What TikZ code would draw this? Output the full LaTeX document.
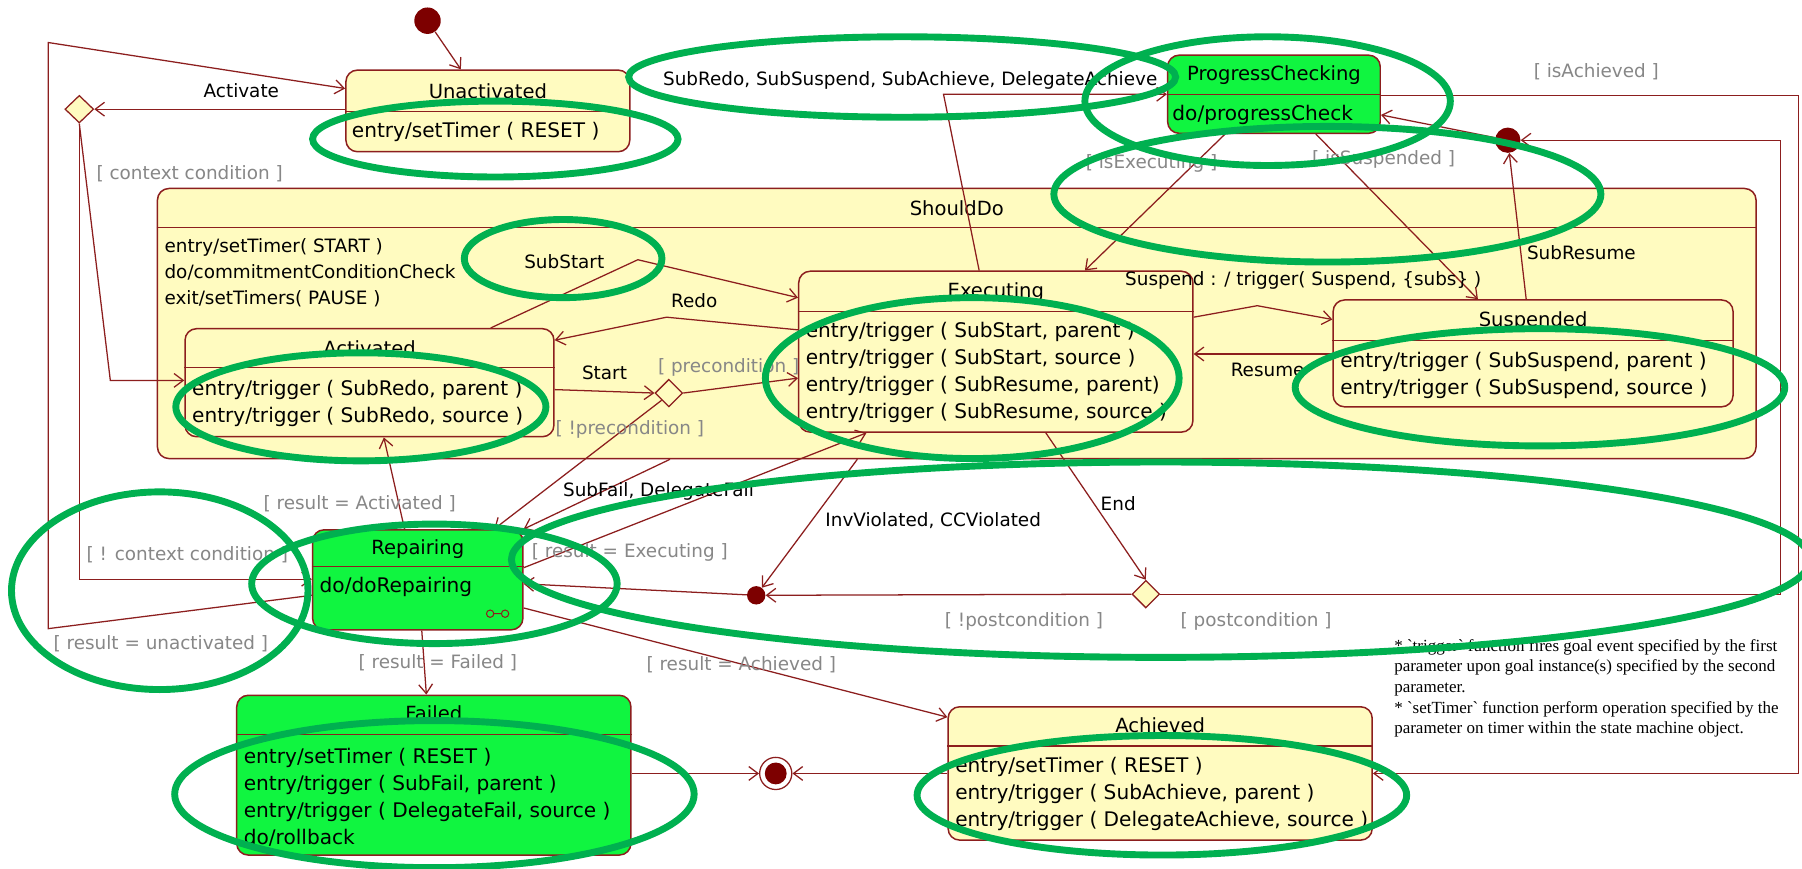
\documentclass[tikz,border=0pt]{standalone}
\usepackage{fontspec}
\setmainfont{DejaVu Sans}
\newfontfamily\notefont{Liberation Serif}
\usetikzlibrary{arrows.meta,shapes.geometric,calc}
\definecolor{lnc}{RGB}{140,30,30}
\definecolor{styl}{RGB}{255,251,192}
\definecolor{grn}{RGB}{16,245,64}
\definecolor{hlg}{RGB}{0,176,80}
\definecolor{dotc}{RGB}{125,0,0}
\definecolor{gtext}{RGB}{135,135,135}
\newcommand\dfont{\fontsize{16}{23.5}\selectfont}
\newcommand\cfont{\fontsize{17.5}{23.5}\selectfont}
\newcommand\tfont{\fontsize{17}{23.5}\selectfont}
\tikzset{
  st/.style={draw=lnc, line width=1.3pt, rounded corners=10pt, fill=styl, inner sep=0pt},
  stg/.style={st, fill=grn},
  lab/.style={font=\dfont, inner sep=1pt, text=black},
  ttl/.style={font=\tfont, inner sep=1pt, text=black},
  grd/.style={font=\dfont, inner sep=1pt, text=gtext},
  comp/.style={font=\cfont, inner sep=0pt, align=left, anchor=west},
  ln/.style={draw=lnc, line width=1.1pt},
  tr/.style={draw=lnc, line width=1.1pt, -{Straight Barb[length=8pt,width=12pt,line width=1.1pt]}},
  hl/.style={draw=hlg, line width=6pt},
  dotst/.style={circle, fill=dotc, inner sep=0pt},
  dia/.style={diamond, draw=lnc, fill=styl, line width=1.1pt, inner sep=0pt, minimum width=25pt, minimum height=24pt},
}
\begin{document}
\begin{tikzpicture}[x=1pt,y=-1pt]
\useasboundingbox (0,0) rectangle (1568,756);
\fill[white] (0,0) rectangle (1568,756);

% ---------- states ----------
\node[st, minimum width=1391pt, minimum height=235pt] (SD) at (832.5,281.5) {};
\draw[ln] (SD.west |- 0,198) -- (SD.east |- 0,198);
\node[ttl] (SDt) at (832.5,181) {ShouldDo};
\node[comp, font=\fontsize{16}{22.5}\selectfont] (SDc) at (143,237.5) {entry/setTimer( START )\\do/commitmentConditionCheck\\exit/setTimers( PAUSE )};

\node[st, minimum width=247pt, minimum height=71pt] (U) at (424.5,96.5) {};
\draw[ln] (U.west |- 0,97) -- (U.east |- 0,97);
\node[ttl] (Ut) at (424.5,79) {Unactivated};
\node[comp] (Uc) at (306,115) {entry/setTimer ( RESET )};

\node[stg, minimum width=185pt, minimum height=68pt] (PC) at (1108.5,82) {};
\draw[ln] (PC.west |- 0,82) -- (PC.east |- 0,82);
\node[ttl] (PCt) at (1108.5,65) {ProgressChecking};
\node[comp] (PCc) at (1020,100) {do/progressCheck};

\node[st, minimum width=321pt, minimum height=94pt] (A) at (321.5,333) {};
\draw[ln] (A.west |- 0,320) -- (A.east |- 0,320);
\node[ttl] (At) at (321.5,303) {Activated};
\node[comp] (Ac) at (167,351) {entry/trigger ( SubRedo, parent )\\entry/trigger ( SubRedo, source )};

\node[st, minimum width=343pt, minimum height=140pt] (E) at (866.5,306) {};
\draw[ln] (E.west |- 0,271) -- (E.east |- 0,271);
\node[ttl] (Et) at (866.5,254) {Executing};
\node[comp] (Ec) at (701,324.5) {entry/trigger ( SubStart, parent )\\entry/trigger ( SubStart, source )\\entry/trigger ( SubResume, parent)\\entry/trigger ( SubResume, source )};

\node[st, minimum width=348pt, minimum height=93pt] (S) at (1334,307.5) {};
\draw[ln] (S.west |- 0,296) -- (S.east |- 0,296);
\node[ttl] (St) at (1334,279) {Suspended};
\node[comp] (Sc) at (1166,326.5) {entry/trigger ( SubSuspend, parent )\\entry/trigger ( SubSuspend, source )};

\node[stg, minimum width=183pt, minimum height=87pt] (R) at (363.5,504.5) {};
\draw[ln] (R.west |- 0,493) -- (R.east |- 0,493);
\node[ttl] (Rt) at (363.5,478) {Repairing};
\node[comp] (Rc) at (278,511) {do/doRepairing};
\draw[ln, line width=0.9pt] (426.5,534) circle (3.2pt) (439.5,534) circle (3.2pt) (429.7,534) -- (436.3,534);

\node[stg, minimum width=343pt, minimum height=139pt] (F) at (377.5,674.5) {};
\draw[ln] (F.west |- 0,639) -- (F.east |- 0,639);
\node[ttl] (Ft) at (377.5,621) {Failed};
\node[comp] (Fc) at (212,693.5) {entry/setTimer ( RESET )\\entry/trigger ( SubFail, parent )\\entry/trigger ( DelegateFail, source )\\do/rollback};

\node[st, minimum width=369pt, minimum height=116pt] (Ach) at (1009.5,673) {};
\draw[ln] (Ach.west |- 0,649) -- (Ach.east |- 0,649);
\node[ttl] (Acht) at (1009.5,631) {Achieved};
\node[comp] (Achc) at (831,691) {entry/setTimer ( RESET )\\entry/trigger ( SubAchieve, parent )\\entry/trigger ( DelegateAchieve, source )};

% ---------- pseudostates ----------
\node[dotst, minimum size=23pt] (init) at (372,18) {};
\node[dia] (DL) at (69,95) {};
\node[dia, minimum width=24pt] (DP) at (582,342) {};
\node[dia, minimum width=24pt] (DE) at (997,517) {};
\node[dotst, minimum size=16pt] (J1) at (658,518) {};
\node[dotst, minimum size=22pt] (J2) at (1312,122) {};
\node[circle, draw=lnc, fill=white, line width=1.1pt, minimum size=28pt, inner sep=0pt] (fin) at (675,673) {};
\node[dotst, minimum size=19pt] (finin) at (675,673) {};

% ---------- helper coordinates ----------
\coordinate (o1) at (42,547);
\coordinate (o2) at (42,37);
\coordinate (k1) at (96,331);
\coordinate (k2) at (69,504);
\coordinate (bs) at (555,226);
\coordinate (br) at (580,276);
\coordinate (bsu) at (1094,266);
\coordinate (bx) at (821,82);
\coordinate (p1) at (1549,517);
\coordinate (p2) at (1549,122);
\coordinate (a1) at (1565,83);
\coordinate (a2) at (1565,673);

% ---------- transitions ----------
\draw[tr] (init) -- (U.north -| 401,0);
\draw[tr] (U.west |- 0,95) -- (DL.east);
\draw[tr] (R.west |- 0,518) -- (o1) -- (o2) -- (U.west |- 0,77);
\draw[tr] (DL.south) -- (k1) -- (A.west |- 0,331);
\draw[tr] (DL.south) -- (k2) -- (R.west |- 0,504);
\draw[tr] (A.north -| 427,0) -- (bs) -- (E.west |- 0,259);
\draw[tr] (E.west |- 0,287) -- (br) -- (A.east |- 0,296);
\draw[tr] (A.east |- 0,339) -- (DP.west);
\draw[tr] (DP.east) -- (E.west |- 0,329);
\draw[tr] (DP.south west) -- (R.north -| 430,0);
\draw[tr] (SD.south -| 583,0) -- (R.north east);
\draw[tr] (R.east |- 0,494) -- (E.south -| 754,0);
\draw[tr] (J1) -- (R.east |- 0,508);
\draw[tr] (SD.south -| 746,0) -- (J1);
\draw[tr] (E.south -| 910,0) -- (DE.north);
\draw[tr] (DE.west) -- (J1);
\draw[tr] (DE.east) -- (p1) -- (p2) -- (J2);
\draw[tr] (J2) -- (PC.east |- 0,100);
\draw[tr] (S.north -| 1328,0) -- (J2);
\draw[tr] (PC.south -| 1066,0) -- (E.north -| 944,0);
\draw[tr] (PC.south -| 1145,0) -- (S.north -| 1286,0);
\draw[tr] (E.north -| 852,0) -- (bx) -- (PC.west |- 0,82);
\draw[tr] (PC.east |- 0,83) -- (a1) -- (a2) -- (Ach.east |- 0,673);
\draw[tr] (E.east |- 0,276) -- (bsu) -- (S.west |- 0,278);
\draw[tr] (S.west |- 0,308) -- (E.east |- 0,308);
\draw[tr] (R.north -| 352,0) -- (A.south -| 334,0);
\draw[tr] (R.south -| 367,0) -- (F.north -| 371,0);
\draw[tr] (R.east |- 0,529) -- (Ach.west |- 0,624);
\draw[tr] (Ach.west |- 0,673) -- (fin);
\draw[tr] (F.east |- 0,673) -- (fin);

% ---------- labels ----------
\node[lab] (l1) at (210,79) {Activate};
\node[grd] (l2) at (165,151) {[ context condition ]};
\node[lab] (l3) at (792,70) {SubRedo, SubSuspend, SubAchieve, DelegateAchieve};
\node[grd] (l4) at (1389,62) {[ isAchieved ]};
\node[grd] (l5) at (1002,142) {[ isExecuting ]};
\node[grd] (l6) at (1204,139) {[ isSuspended ]};
\node[lab] (l7) at (491,228) {SubStart};
\node[lab] (l8) at (1134,244) {Suspend : / trigger( Suspend, \{subs\} )};
\node[lab] (l9) at (1376,220) {SubResume};
\node[lab] (l10) at (604,262) {Redo};
\node[lab] (l11) at (526,324) {Start};
\node[grd] (l12) at (634,320) {[ precondition ]};
\node[lab] (l13) at (1103,322) {Resume};
\node[grd] (l14) at (548,374) {[ !precondition ]};
\node[lab] (l15) at (573,428) {SubFail, DelegateFail};
\node[grd] (l16) at (313,438) {[ result = Activated ]};
\node[lab] (l17) at (812,453) {InvViolated, CCViolated};
\node[lab] (l18) at (973,438) {End};
\node[grd] (l19) at (163,483) {[ ! context condition ]};
\node[grd] (l20) at (548,481) {[ result = Executing ]};
\node[grd] (l21) at (891,541) {[ !postcondition ]};
\node[grd] (l22) at (1093,541) {[ postcondition ]};
\node[grd] (l23) at (140,560) {[ result = unactivated ]};
\node[grd] (l24) at (381,577) {[ result = Failed ]};
\node[grd] (l25) at (645,578) {[ result = Achieved ]};
\node[anchor=north west, align=left, inner sep=0pt, font=\notefont\fontsize{14.8}{18}\selectfont] (note) at (1213,556)
 {* \textasciigrave trigger\textasciigrave{} function fires goal event specified by the first\\
  parameter upon goal instance(s) specified by the second\\
  parameter.\\
  * \textasciigrave setTimer\textasciigrave{} function perform operation specified by the\\
  parameter on timer within the state machine object.};

% ---------- green highlight ellipses ----------
\draw[hl] (431,121) ellipse [x radius=159pt, y radius=33pt];
\draw[hl] (785,67) ellipse [x radius=238pt, y radius=35pt];
\draw[hl] (1103,88) ellipse [x radius=159pt, y radius=56pt];
\draw[hl] (1155,169) ellipse [x radius=238pt, y radius=59pt];
\draw[hl] (490,225) ellipse [x radius=86pt, y radius=34pt];
\draw[hl] (314,354) ellipse [x radius=161pt, y radius=47pt];
\draw[hl] (846,329) ellipse [x radius=180pt, y radius=70pt];
\draw[hl] (1340,337) ellipse [x radius=213pt, y radius=51pt];
\draw[hl] (139,514) ellipse [x radius=129pt, y radius=86pt];
\draw[hl] (378,508) ellipse [x radius=159pt, y radius=52pt];
\draw[hl] (1010,487) ellipse [x radius=565pt, y radius=85pt];
\draw[hl] (378,691) ellipse [x radius=226pt, y radius=64pt];
\draw[hl] (1011,692) ellipse [x radius=213pt, y radius=52pt];
\end{tikzpicture}
\end{document}
